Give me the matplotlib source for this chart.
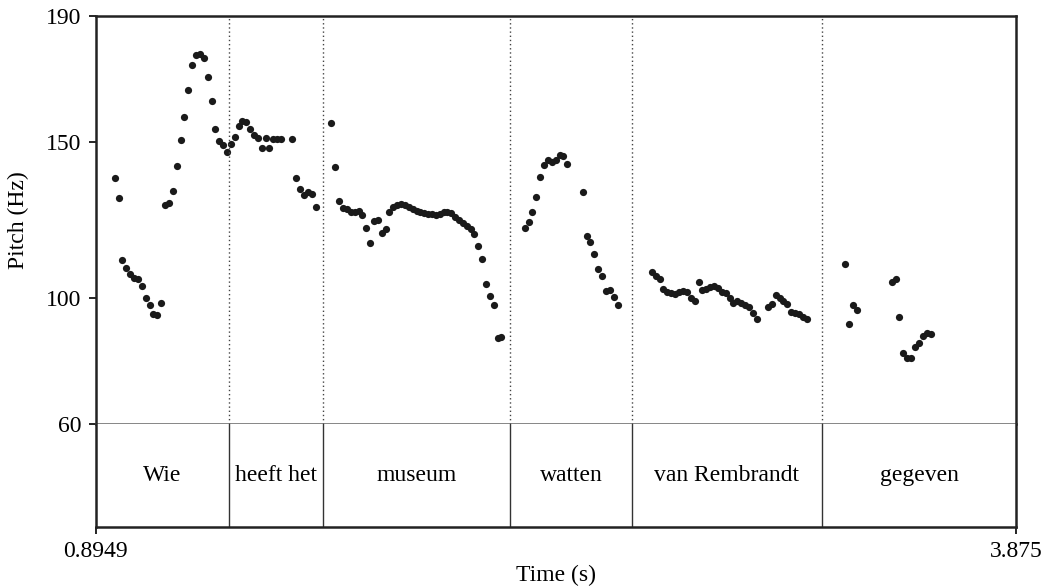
import matplotlib
matplotlib.use("Agg")
from matplotlib import pyplot as plt

# time axis / tier
t_start = 0.8949
t_end = 3.875
bounds = [1.3281, 1.6305, 2.2368, 2.6318, 3.2469]
words = ["Wie", "heeft het", "museum", "watten", "van Rembrandt", "gegeven"]
y_ticks = [60, 100, 150, 190]

# pitch track (s, Hz)
t1 = [0.9570, 0.9700, 0.9817, 0.9947, 1.0076, 1.0205, 1.0325, 1.0455, 1.0585, 1.0704,
      1.0821, 1.0951, 1.1071, 1.1199, 1.1329, 1.1459, 1.1579, 1.1708, 1.1825, 1.1954,
      1.2074, 1.2203, 1.2323, 1.2453, 1.2582, 1.2712, 1.2828, 1.2957, 1.3087, 1.3207,
      1.3336, 1.3456, 1.3585, 1.3701, 1.3831, 1.3951, 1.4080, 1.4210, 1.4330, 1.4459,
      1.4575, 1.4705, 1.4834, 1.4954, 1.5320, 1.5449, 1.5569, 1.5698, 1.5828, 1.5948,
      1.6077]
f1 = [138.5, 132.1, 112.2, 109.6, 107.7, 106.6, 106.1, 103.9, 100.1, 97.9,
      94.9, 94.7, 98.4, 129.9, 130.5, 134.3, 142.2, 150.5, 157.8, 166.3,
      174.5, 177.7, 177.9, 176.6, 170.7, 163.0, 154.0, 150.3, 148.9, 146.8,
      149.2, 151.6, 155.0, 156.7, 156.1, 154.0, 152.1, 151.1, 148.1, 151.1,
      147.9, 150.9, 150.9, 150.9, 150.9, 138.5, 134.8, 133.0, 133.9, 133.2,
      129.2]

t2 = [1.6573, 1.6703, 1.6832, 1.6962, 1.7082, 1.7211, 1.7341, 1.7470, 1.7587, 1.7717,
      1.7836, 1.7965, 1.8085, 1.8214, 1.8344, 1.8461, 1.8590, 1.8710, 1.8839, 1.8968,
      1.9088, 1.9218, 1.9347, 1.9464, 1.9593, 1.9712, 1.9842, 1.9962, 2.0091, 2.0221,
      2.0337, 2.0466, 2.0586, 2.0715, 2.0845, 2.0965, 2.1094, 2.1211, 2.1340, 2.1469,
      2.1589, 2.1718, 2.1838, 2.1967, 2.2084]
f2 = [155.9, 141.8, 131.2, 128.7, 128.6, 127.5, 127.5, 127.8, 126.6, 122.5,
      117.6, 124.8, 125.0, 120.7, 122.0, 127.6, 129.0, 129.7, 130.1, 129.8,
      129.0, 128.4, 127.8, 127.5, 127.1, 126.9, 126.8, 126.6, 127.0, 127.5,
      127.5, 127.1, 126.0, 125.0, 123.9, 123.1, 122.2, 120.5, 116.8, 112.5,
      104.5, 100.7, 97.8, 87.5, 87.7]

t3 = [2.2842, 2.2972, 2.3088, 2.3218, 2.3348, 2.3468, 2.3598, 2.3728, 2.3848, 2.3977,
      2.4094, 2.4224, 2.4723, 2.4852, 2.4969, 2.5099, 2.5229, 2.5348, 2.5478, 2.5607,
      2.5727, 2.5857]
f3 = [122.5, 124.4, 127.5, 132.2, 138.8, 142.6, 144.2, 143.5, 144.1, 145.7,
      145.4, 142.8, 134.0, 120.0, 118.1, 114.1, 109.3, 107.1, 102.4, 102.6,
      100.5, 97.9]

t4 = [2.6965, 2.7085, 2.7215, 2.7332, 2.7462, 2.7590, 2.7710, 2.7840, 2.7969, 2.8089,
      2.8219, 2.8348, 2.8477, 2.8594, 2.8723, 2.8843, 2.8972, 2.9102, 2.9222, 2.9351,
      2.9480, 2.9597, 2.9727, 2.9856, 2.9976, 3.0105, 3.0225, 3.0354, 3.0721, 3.0850,
      3.0970, 3.1099, 3.1216, 3.1346, 3.1475, 3.1595, 3.1724, 3.1854, 3.1983]
f4 = [108.3, 107.2, 106.1, 103.0, 102.1, 101.6, 101.3, 102.1, 102.4, 101.9,
      100.3, 99.1, 105.1, 102.6, 102.9, 103.7, 103.9, 103.2, 102.1, 101.6,
      100.0, 98.7, 99.2, 98.4, 97.9, 97.3, 95.5, 93.3, 97.3, 98.1,
      101.0, 100.3, 99.2, 98.1, 95.7, 95.4, 95.0, 94.1, 93.6]

t5 = [3.3221, 3.3350, 3.3470, 3.3600, 3.4726, 3.4856, 3.4973, 3.5103, 3.5232, 3.5352,
      3.5482, 3.5612, 3.5742, 3.5862, 3.5992]
f5 = [111.0, 91.9, 97.8, 96.4, 105.3, 106.3, 94.0, 82.6, 81.0, 80.9,
      84.4, 85.8, 87.9, 88.9, 88.8]

plt.rcParams['font.family'] = ['Liberation Serif', 'DejaVu Serif']
fs = 17

W, H = 1049, 587
fig = plt.figure(figsize=(W / 100, H / 100), dpi=100)

left, right = 95.5 / W, 1016 / W
ax = fig.add_axes([left, 1 - 424 / H, right - left, (424 - 16) / H])
tier = fig.add_axes([left, 1 - 527 / H, right - left, (527 - 424) / H])

# pitch panel
for t, f in [(t1, f1), (t2, f2), (t3, f3), (t4, f4), (t5, f5)]:
    ax.plot(t, f, 'o', color='#1a1a1a', ms=5.2, mec='none')
for b in bounds:
    ax.axvline(b, color='#444444', ls=(0, (1, 2)), lw=1)
ax.set_xlim(t_start, t_end)
ax.set_ylim(60, 190)
ax.set_yticks(y_ticks)
ax.set_yticklabels([str(v) for v in y_ticks], fontsize=fs)
ax.set_xticks([])
ax.tick_params(axis='y', direction='out', length=5, width=1.2, pad=5)
for s in ['left', 'top', 'right']:
    ax.spines[s].set_linewidth(1.8)
    ax.spines[s].set_color('#222222')
ax.spines['bottom'].set_linewidth(1.1)
ax.spines['bottom'].set_color('#666666')

# text tier
edges = [t_start] + bounds + [t_end]
for b in bounds:
    tier.axvline(b, color='#333333', lw=1)
for i, w in enumerate(words):
    tier.text((edges[i] + edges[i + 1]) / 2, 0.5, w, ha='center', va='center', fontsize=fs)
tier.set_xlim(t_start, t_end)
tier.set_ylim(0, 1)
tier.set_yticks([])
tier.set_xticks([t_start, t_end])
tier.set_xticklabels(['0.8949', '3.875'], fontsize=fs)
tier.tick_params(axis='x', direction='out', length=5, width=1.2, pad=5)
tier.spines['top'].set_visible(False)
for s in ['left', 'bottom', 'right']:
    tier.spines[s].set_linewidth(1.8)
    tier.spines[s].set_color('#222222')

fig.text((95.5 + 1016) / 2 / W, 1 - 575 / H, 'Time (s)', ha='center', va='center', fontsize=fs)
fig.text(18 / W, 1 - 220 / H, 'Pitch (Hz)', ha='center', va='center', rotation=90, fontsize=fs)

fig.savefig('out.png', dpi=100)
